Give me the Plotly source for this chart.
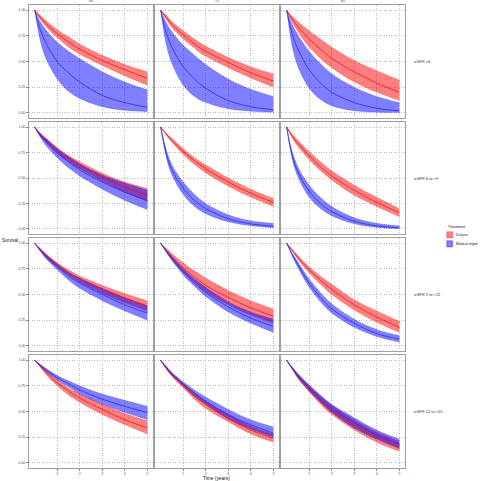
import plotly.graph_objects as go

# ---------------- data ----------------
time = [0, 0.25, 0.5, 1, 1.5, 2, 3, 4, 5]
ages = ["65", "75", "85"]
egfr_groups = ["eGFR <6", "eGFR 6 to <9", "eGFR 9 to <12", "eGFR 12 to <15"]
treatments = ["Dialysis", "Medical mgmt"]
x_ticks = [1, 2, 3, 4, 5]
y_ticks = [0, 0.25, 0.5, 0.75, 1.0]
y_tick_labels = ["0.00", "0.25", "0.50", "0.75", "1.00"]

# rows = eGFR groups, columns = age
dialysis_mid = [
    [[1, .93, .87, .77, .69, .62, .51, .42, .335], [1, .93, .86, .76, .67, .60, .49, .39, .31], [1, .91, .84, .72, .62, .53, .40, .29, .20]],
    [[1, .93, .87, .77, .69, .62, .51, .41, .33], [1, .93, .87, .76, .67, .59, .46, .35, .26], [1, .91, .84, .72, .61, .52, .38, .26, .16]],
    [[1, .94, .88, .79, .71, .65, .55, .46, .39], [1, .93, .87, .76, .67, .59, .47, .37, .29], [1, .93, .86, .74, .64, .55, .40, .28, .18]],
    [[1, .94, .88, .78, .70, .63, .52, .42, .34], [1, .92, .86, .75, .65, .57, .43, .32, .24], [1, .92, .84, .72, .61, .51, .37, .25, .16]],
]
dialysis_hi = [
    [[1, .95, .90, .81, .74, .67, .56, .47, .40], [1, .95, .89, .80, .72, .65, .54, .45, .38], [1, .94, .89, .80, .72, .64, .51, .41, .32]],
    [[1, .94, .89, .80, .72, .66, .55, .46, .40], [1, .94, .89, .79, .70, .63, .50, .39, .30], [1, .93, .87, .76, .66, .57, .43, .31, .20]],
    [[1, .95, .90, .81, .74, .68, .59, .51, .44], [1, .95, .90, .81, .73, .66, .54, .44, .36], [1, .94, .88, .77, .68, .60, .45, .34, .24]],
    [[1, .95, .90, .81, .73, .67, .57, .48, .41], [1, .93, .87, .77, .68, .60, .47, .36, .28], [1, .93, .86, .75, .65, .56, .42, .30, .21]],
]
dialysis_lo = [
    [[1, .91, .84, .73, .64, .57, .46, .36, .27], [1, .91, .83, .72, .63, .55, .44, .34, .25], [1, .88, .79, .64, .53, .44, .30, .20, .12]],
    [[1, .91, .85, .74, .66, .59, .47, .36, .27], [1, .92, .85, .73, .63, .55, .42, .31, .22], [1, .89, .81, .68, .57, .48, .33, .22, .12]],
    [[1, .93, .86, .77, .69, .62, .51, .42, .34], [1, .92, .84, .72, .62, .53, .40, .30, .22], [1, .92, .84, .71, .60, .50, .35, .23, .13]],
    [[1, .93, .86, .75, .66, .59, .47, .37, .28], [1, .91, .84, .73, .62, .53, .40, .28, .20], [1, .91, .82, .69, .57, .47, .32, .20, .11]],
]
medical_mid = [
    [[1, .81, .68, .50, .39, .30, .17, .10, .055], [1, .78, .64, .45, .33, .24, .12, .06, .03], [1, .77, .62, .42, .29, .20, .10, .045, .02]],
    [[1, .92, .86, .75, .66, .58, .46, .36, .28], [1, .74, .58, .40, .28, .20, .10, .05, .026], [1, .72, .56, .37, .25, .17, .075, .03, .01]],
    [[1, .93, .87, .77, .68, .61, .50, .40, .32], [1, .92, .85, .72, .61, .52, .38, .27, .19], [1, .89, .79, .61, .47, .36, .22, .12, .065]],
    [[1, .95, .91, .83, .77, .71, .62, .55, .49], [1, .93, .87, .77, .68, .60, .47, .37, .29], [1, .92, .85, .73, .62, .53, .39, .27, .18]],
]
medical_hi = [
    [[1, .89, .81, .69, .60, .53, .40, .30, .225], [1, .88, .79, .66, .56, .47, .33, .23, .16], [1, .86, .76, .60, .48, .38, .25, .16, .10]],
    [[1, .94, .89, .79, .71, .64, .53, .45, .38], [1, .78, .63, .46, .34, .25, .14, .08, .055], [1, .76, .61, .43, .31, .22, .11, .055, .03]],
    [[1, .94, .89, .80, .72, .66, .56, .47, .39], [1, .93, .87, .75, .65, .57, .43, .33, .26], [1, .90, .82, .65, .52, .41, .26, .16, .10]],
    [[1, .96, .92, .85, .80, .75, .67, .61, .55], [1, .94, .88, .79, .71, .64, .52, .42, .35], [1, .93, .87, .76, .66, .57, .44, .32, .23]],
]
medical_lo = [
    [[1, .70, .53, .33, .21, .14, .06, .025, .012], [1, .66, .48, .27, .16, .10, .04, .015, .006], [1, .64, .45, .24, .13, .07, .02, .007, .003]],
    [[1, .90, .82, .70, .60, .52, .39, .28, .19], [1, .70, .53, .34, .22, .15, .07, .03, .012], [1, .68, .51, .31, .20, .13, .05, .015, .004]],
    [[1, .92, .85, .74, .64, .56, .44, .34, .25], [1, .91, .83, .69, .58, .48, .33, .22, .13], [1, .87, .76, .57, .43, .32, .18, .09, .035]],
    [[1, .94, .89, .81, .74, .67, .57, .49, .42], [1, .92, .85, .75, .65, .57, .43, .33, .25], [1, .91, .83, .70, .59, .49, .34, .23, .14]],
]

# ---------------- styling ----------------
W, H = 480, 481
ML, MR, MT, MB = 29, 75, 5, 13
PW, PH = W - ML - MR, H - MT - MB
col_px = [(0, 124), (126, 250), (252, 376)]
row_px = [(0, 113), (117, 229), (233, 346), (350, 463)]

styles = {
    "Dialysis": dict(fill="rgba(255,0,0,0.5)", edge="rgba(235,0,0,0.6)", line="rgba(225,20,20,0.95)"),
    "Medical mgmt": dict(fill="rgba(0,0,255,0.5)", edge="rgba(0,0,235,0.6)", line="rgba(40,40,225,0.95)"),
}
FONT = "Liberation Sans, Arial, sans-serif"
GRID_DASH = "1px,1.5px"


def px_x(p):
    return (p - ML) / PW


def px_y(p):
    return 1 - (p - MT) / PH


fig = go.Figure()
layout = {}

for r, grp in enumerate(egfr_groups):
    for c, age in enumerate(ages):
        k = r * 3 + c + 1
        xa = "x" if k == 1 else f"x{k}"
        ya = "y" if k == 1 else f"y{k}"
        for name, mid, hi, lo in [
            ("Dialysis", dialysis_mid, dialysis_hi, dialysis_lo),
            ("Medical mgmt", medical_mid, medical_hi, medical_lo),
        ]:
            st = styles[name]
            fig.add_trace(go.Scatter(x=time, y=lo[r][c], xaxis=xa, yaxis=ya, mode="lines",
                                     line=dict(color=st["edge"], width=0.5, dash="1px,1px", shape="spline"),
                                     showlegend=False, hoverinfo="skip"))
            fig.add_trace(go.Scatter(x=time, y=hi[r][c], xaxis=xa, yaxis=ya, mode="lines",
                                     fill="tonexty", fillcolor=st["fill"],
                                     line=dict(color=st["edge"], width=0.5, dash="1px,1px", shape="spline"),
                                     showlegend=False, hoverinfo="skip"))
        for name, mid in [("Dialysis", dialysis_mid), ("Medical mgmt", medical_mid)]:
            st = styles[name]
            fig.add_trace(go.Scatter(x=time, y=mid[r][c], xaxis=xa, yaxis=ya, mode="lines",
                                     line=dict(color=st["line"], width=0.8, shape="spline"),
                                     showlegend=False, name=name))

        x0, x1 = col_px[c]
        y0, y1 = row_px[r]
        xkey = "xaxis" if k == 1 else f"xaxis{k}"
        ykey = "yaxis" if k == 1 else f"yaxis{k}"
        bottom = r == len(egfr_groups) - 1
        left = c == 0
        layout[xkey] = dict(
            domain=[x0 / PW, x1 / PW], anchor=ya, range=[-0.25, 5.25],
            tickvals=x_ticks, ticktext=[str(v) for v in x_ticks],
            showticklabels=bottom, ticks="outside" if bottom else "", ticklen=2,
            tickcolor="#888", tickfont=dict(size=3.5, color="#4d4d4d", family=FONT),
            showgrid=True, gridcolor="#bdbdbd", griddash=GRID_DASH, gridwidth=0.8,
            zeroline=False, showline=True, mirror=True, linecolor="#a0a0a0", linewidth=1,
        )
        layout[ykey] = dict(
            domain=[1 - y1 / PH, 1 - y0 / PH], anchor=xa, range=[-0.05, 1.05],
            tickvals=y_ticks, ticktext=y_tick_labels,
            showticklabels=left, ticks="outside" if left else "", ticklen=2,
            tickcolor="#888", tickfont=dict(size=3.5, color="#4d4d4d", family=FONT),
            showgrid=True, gridcolor="#bdbdbd", griddash=GRID_DASH, gridwidth=0.8,
            zeroline=False, showline=True, mirror=True, linecolor="#a0a0a0", linewidth=1,
        )

annotations = []
# column strip labels
for c, age in enumerate(ages):
    x0, x1 = col_px[c]
    annotations.append(dict(text=age, xref="paper", yref="paper", x=(x0 + x1) / 2 / PW, y=1,
                            xanchor="center", yanchor="bottom", showarrow=False,
                            font=dict(size=3.5, color="#333", family=FONT)))
# row strip labels
for r, grp in enumerate(egfr_groups):
    y0, y1 = row_px[r]
    annotations.append(dict(text=grp, xref="paper", yref="paper", x=1, xshift=7, y=1 - (y0 + y1) / 2 / PH,
                            xanchor="left", yanchor="middle", showarrow=False,
                            font=dict(size=4, color="#333", family=FONT)))
# axis titles
annotations.append(dict(text="Survival", xref="paper", yref="paper", x=px_x(0.5), y=px_y(240),
                        xanchor="left", yanchor="middle", showarrow=False,
                        font=dict(size=4.5, color="#111", family=FONT)))
annotations.append(dict(text="Time (years)", xref="paper", yref="paper", x=px_x(216), y=px_y(478.3),
                        xanchor="center", yanchor="middle", showarrow=False,
                        font=dict(size=4.8, color="#111", family=FONT)))
# legend (drawn manually)
annotations.append(dict(text="Treatment", xref="paper", yref="paper", x=px_x(446), y=px_y(227),
                        xanchor="left", yanchor="middle", showarrow=False,
                        font=dict(size=3.8, color="#111", family=FONT)))
shapes = []
for i, name in enumerate(treatments):
    top = 231.7 + i * 9
    st = styles[name]
    shapes.append(dict(type="rect", xref="paper", yref="paper", x0=px_x(446.7), x1=px_x(452.7),
                       y0=px_y(top + 6.3), y1=px_y(top), fillcolor=st["fill"],
                       line=dict(color=st["edge"], width=0.5)))
    annotations.append(dict(text=name, xref="paper", yref="paper", x=px_x(454.5), y=px_y(top + 3.2),
                            xanchor="left", yanchor="middle", showarrow=False,
                            font=dict(size=3.5, color="#222", family=FONT)))

fig.update_layout(
    width=W, height=H,
    margin=dict(l=ML, r=MR, t=MT, b=MB, pad=0, autoexpand=False),
    paper_bgcolor="white", plot_bgcolor="white",
    showlegend=False, annotations=annotations, shapes=shapes,
    font=dict(family=FONT),
    **layout,
)

fig.write_html("out.html", config={"displayModeBar": False},
               post_script="document.body.style.margin='0';document.body.style.overflow='hidden';")
